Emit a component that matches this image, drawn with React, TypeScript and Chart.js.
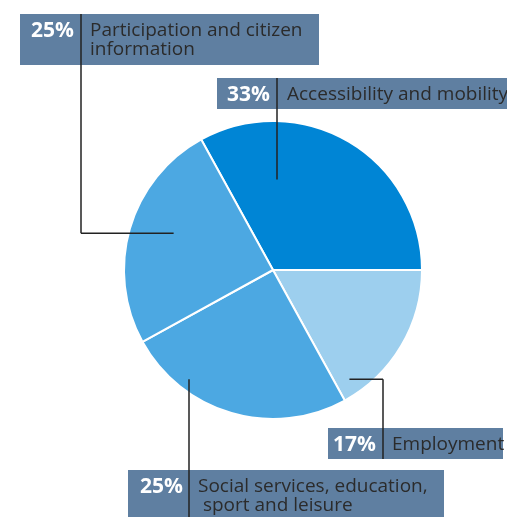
import React, { useEffect, useRef } from "react";
import { Chart, registerables } from "chart.js";

Chart.register(...registerables);

const categories = [
  "Accessibility and mobility",
  "Employment",
  "Social services, education,\n sport and leisure",
  "Participation and citizen\ninformation",
];
const values = [33, 17, 25, 25];
const percentLabels = ["33%", "17%", "25%", "25%"];
const sliceColors = ["#0085d5", "#9dcfee", "#4ca8e2", "#4ca8e2"];

// Label box layout (pixels) and leader anchors (relative to pie centre, in radius units)
const boxes = [
  { x: 217, y: 78, w: 300, h: 31, div: 277, pctRight: 270, textX: 287, anchor: [0.027, -0.607] },
  { x: 328, y: 428, w: 175, h: 31, div: 383, pctRight: 376, textX: 392, anchor: [0.513, 0.733] },
  { x: 128, y: 470, w: 316, h: 60, div: 189, pctRight: 183, textX: 198, anchor: [-0.56, 0.733] },
  { x: 20, y: 14, w: 299, h: 51, div: 81, pctRight: 74, textX: 90, anchor: [-0.667, -0.247] },
];

const labelPlugin = {
  id: "labelBoxes",
  afterDraw(chart: any) {
    const ctx = chart.ctx;
    const meta = chart.getDatasetMeta(0);
    const arc = meta.data[0];
    const cx = arc.x;
    const cy = arc.y;
    const R = arc.outerRadius;
    ctx.save();
    boxes.forEach((b, i) => {
      ctx.fillStyle = "#5f7fa1";
      ctx.fillRect(b.x, b.y, b.w, b.h);
      const ax = cx + b.anchor[0] * R;
      const ay = cy + b.anchor[1] * R;
      const top = Math.min(b.y, ay);
      const bottom = Math.max(b.y + b.h, ay);
      ctx.strokeStyle = "#222222";
      ctx.lineWidth = 1.5;
      ctx.beginPath();
      ctx.moveTo(b.div, top);
      ctx.lineTo(b.div, bottom);
      ctx.stroke();
      if (Math.abs(ax - b.div) > 2) {
        ctx.beginPath();
        ctx.moveTo(b.div, ay);
        ctx.lineTo(ax, ay);
        ctx.stroke();
      }
      const lines = categories[i].split("\n");
      const firstY = b.y + 17;
      ctx.textBaseline = "middle";
      ctx.textAlign = "right";
      ctx.fillStyle = "#ffffff";
      ctx.font = "bold 21px 'Open Sans'";
      ctx.fillText(percentLabels[i], b.pctRight, firstY);
      ctx.textAlign = "left";
      ctx.fillStyle = "#2b2b2b";
      ctx.font = "19px 'Open Sans'";
      lines.forEach((ln, k) => {
        ctx.fillText(ln, b.textX, firstY + k * 19);
      });
    });
    ctx.restore();
  },
};

export default function App() {
  const ref = useRef<HTMLCanvasElement | null>(null);
  useEffect(() => {
    if (!ref.current) return;
    const chart = new Chart(ref.current, {
      type: "pie",
      data: {
        labels: categories,
        datasets: [
          {
            data: values,
            backgroundColor: sliceColors,
            borderColor: "#ffffff",
            borderWidth: 2,
          },
        ],
      },
      options: {
        responsive: false,
        animation: false,
        rotation: -28.8,
        layout: { padding: { left: 123, right: 84, top: 120, bottom: 97 } },
        plugins: {
          legend: { display: false },
          title: { display: false },
          tooltip: { enabled: false },
        },
      },
      plugins: [labelPlugin],
    });
    return () => chart.destroy();
  }, []);
  return (
    <div style={{ position: "absolute", left: 0, top: 0, width: 507, height: 517, background: "#ffffff" }}>
      <canvas ref={ref} width={507} height={517} style={{ display: "block" }} />
    </div>
  );
}
